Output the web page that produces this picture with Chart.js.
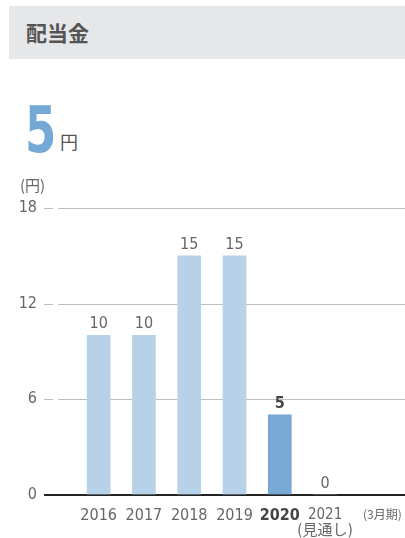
<!DOCTYPE html>
<html><head><meta charset="utf-8">
<script src="https://cdn.jsdelivr.net/npm/chart.js@4"></script>
<style>
html,body{margin:0;padding:0;background:#fff;width:405px;height:538px;overflow:hidden;font-family:"Noto Sans CJK JP","Noto Sans",sans-serif;}
#hdr{position:absolute;left:9px;top:6px;width:396px;height:53px;background:#e6e7e9;}
#ttl{position:absolute;left:17px;top:11px;font-size:21px;font-weight:bold;color:#555;line-height:30px;}
#big{position:absolute;left:25px;top:91px;font-family:"Liberation Sans Narrow","DejaVu Sans Condensed",Roboto,sans-serif;font-weight:bold;font-size:64px;line-height:78px;color:#74a8d5;transform:scaleX(0.78);transform-origin:left top;}
#unit{position:absolute;left:60px;top:128px;font-size:18px;line-height:26px;color:#555;}
#wrap{position:absolute;left:0;top:164px;width:405px;height:374px;}
</style></head><body>
<div id="hdr"><div id="ttl">配当金</div></div>
<div id="big">5</div>
<div id="unit">円</div>
<div id="wrap"><canvas id="c"></canvas></div>
<script>
const categories = ["2016","2017","2018","2019","2020",["2021","(見通し)"],""];
const dividends = [10,10,15,15,5,0,null];
const yTicks = [0,6,12,18];
const highlightIndex = 4;
const unitLabel = "(円)";
const periodLabel = "(3月期)";

const NUM = '"Liberation Sans Narrow","DejaVu Sans Condensed",Roboto,sans-serif';
const light = "#b7d1e8", dark = "#78a9d4";

const gridPlugin = {
  id:'grid',
  beforeDatasetsDraw(chart){
    const {ctx, scales:{y,x}} = chart;
    ctx.save();
    yTicks.forEach(v=>{
      const py = Math.round(y.getPixelForValue(v));
      if(v===0){
        ctx.strokeStyle="#222"; ctx.lineWidth=2;
        ctx.beginPath(); ctx.moveTo(44,py); ctx.lineTo(405,py); ctx.stroke();
      } else {
        ctx.strokeStyle="#bdbdbd"; ctx.lineWidth=1;
        ctx.beginPath(); ctx.moveTo(44,py+0.5); ctx.lineTo(53,py+0.5); ctx.moveTo(58,py+0.5); ctx.lineTo(405,py+0.5); ctx.stroke();
      }
    });
    ctx.fillStyle="#666"; ctx.font='15px "Noto Sans CJK JP",sans-serif';
    ctx.textAlign="left"; ctx.textBaseline="middle";
    ctx.fillText(unitLabel,20,21);
    ctx.font='12px "Noto Sans CJK JP",sans-serif';
    ctx.textAlign="center";
    ctx.fillText(periodLabel, x.getPixelForValue(6)+12, y.getPixelForValue(0)+20);
    ctx.restore();
  },
  afterDatasetsDraw(chart){
    const {ctx} = chart;
    const meta = chart.getDatasetMeta(0);
    ctx.save();
    ctx.textAlign="center"; ctx.textBaseline="bottom";
    meta.data.forEach((bar,i)=>{
      const v = dividends[i];
      if(v===null) return;
      const hi = i===highlightIndex;
      ctx.fillStyle = hi ? "#444" : "#666";
      ctx.font = (hi?"bold ":"")+"16px "+NUM;
      ctx.fillText(String(v), bar.x, bar.y-3);
    });
    ctx.restore();
  }
};

new Chart(document.getElementById('c'),{
  type:'bar',
  data:{labels:categories,datasets:[{data:dividends,
    backgroundColor:dividends.map((v,i)=>i===highlightIndex?dark:light),
    barThickness:23, borderWidth:0}]},
  options:{
    responsive:true, maintainAspectRatio:false, animation:false,
    layout:{padding:{top:44,right:12,left:0,bottom:0}},
    plugins:{legend:{display:false},tooltip:{enabled:false}},
    scales:{
      x:{grid:{display:false},border:{display:false},
        afterFit(s){s.height=43.5;},
        ticks:{padding:5,maxRotation:0,autoSkip:false,
          color:(c)=>c.index===highlightIndex?"#444":"#666",
          font:(c)=>{
            if(c.index===highlightIndex) return {family:NUM,size:16,weight:'bold',lineHeight:1.05};
            if(c.index===5) return {family:NUM+',"Noto Sans CJK JP"',size:15,lineHeight:1.05};
            return {family:NUM,size:16,lineHeight:1.05};
          }}},
      y:{min:0,max:18,grid:{display:false},border:{display:false},
        afterFit(s){s.width=76;},
        afterBuildTicks(s){s.ticks=yTicks.map(v=>({value:v}));},
        ticks:{padding:31,color:"#666",font:{family:NUM,size:16}}}
    }
  },
  plugins:[gridPlugin]
});
</script>
</body></html>
